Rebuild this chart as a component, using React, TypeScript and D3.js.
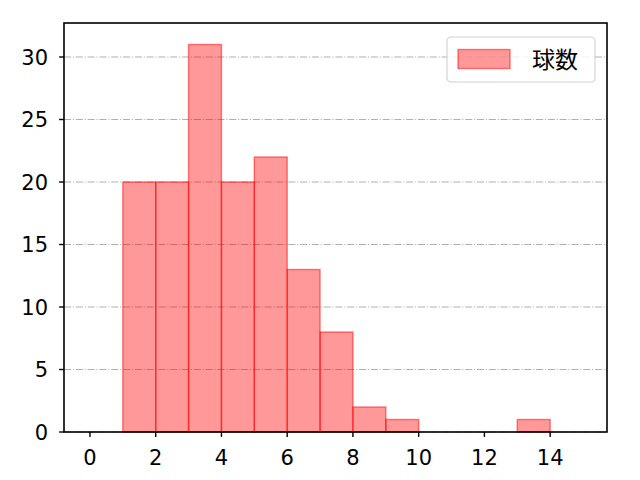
import * as d3 from 'd3';
import React from 'react';

// histogram bins (left edge) and counts
const binStarts = [1, 2, 3, 4, 5, 6, 7, 8, 9, 10, 11, 12, 13];
const counts = [20, 20, 31, 20, 22, 13, 8, 2, 1, 0, 0, 0, 1];
const xTicks = [0, 2, 4, 6, 8, 10, 12, 14];
const yTicks = [0, 5, 10, 15, 20, 25, 30];
const seriesName = '球数';

export default function App() {
  const W = 640;
  const H = 480;
  const margin = { top: 23, right: 33, bottom: 48, left: 64 };
  const iw = W - margin.left - margin.right;
  const ih = H - margin.top - margin.bottom;

  const x = d3.scaleLinear().domain([-0.79, 15.73]).range([0, iw]);
  const y = d3.scaleLinear().domain([0, 32.72]).range([ih, 0]);

  const font = '"DejaVu Sans", sans-serif';
  const fs = 21;

  return (
    <svg
      width={W}
      height={H}
      style={{ position: 'absolute', left: 0, top: 0, background: '#fff' }}
    >
      <g transform={`translate(${margin.left},${margin.top})`}>
        {/* grid */}
        {yTicks.map(t => (
          <line
            key={`g${t}`}
            x1={0}
            x2={iw}
            y1={y(t)}
            y2={y(t)}
            stroke="#b0b0b0"
            strokeWidth={1.1}
            strokeDasharray="7.1,1.8,1.1,1.8"
          />
        ))}
        {/* bars */}
        {binStarts.map((b, i) =>
          counts[i] > 0 ? (
            <rect
              key={`b${b}`}
              x={x(b)}
              y={y(counts[i])}
              width={x(b + 1) - x(b)}
              height={y(0) - y(counts[i])}
              fill="rgba(255,0,0,0.4)"
              stroke="rgba(255,0,0,0.5)"
              strokeWidth={1.4}
            />
          ) : null
        )}
        {/* frame */}
        <rect x={0} y={0} width={iw} height={ih} fill="none" stroke="#000" strokeWidth={1.6} />
        {/* x axis */}
        {xTicks.map(t => (
          <g key={`x${t}`} transform={`translate(${x(t)},${ih})`}>
            <line y1={0} y2={4.9} stroke="#000" strokeWidth={1.4} />
            <text y={33} textAnchor="middle" fontFamily={font} fontSize={fs} fill="#000">
              {t}
            </text>
          </g>
        ))}
        {/* y axis */}
        {yTicks.map(t => (
          <g key={`y${t}`} transform={`translate(0,${y(t)})`}>
            <line x1={0} x2={-4.9} stroke="#000" strokeWidth={1.4} />
            <text x={-16} dy="0.36em" textAnchor="end" fontFamily={font} fontSize={fs} fill="#000">
              {t}
            </text>
          </g>
        ))}
        {/* legend */}
        <g transform={`translate(${447 - margin.left},${37 - margin.top})`}>
          <rect x={0} y={0} width={148} height={45} rx={4} fill="rgba(255,255,255,0.8)" stroke="#d0d0d0" strokeWidth={1.1} />
          <rect x={11} y={12.5} width={52} height={19} fill="rgba(255,0,0,0.4)" stroke="rgba(255,0,0,0.5)" strokeWidth={1.4} />
          <text
            x={85}
            y={22.5}
            dy="0.36em"
            fontFamily='"Noto Sans CJK JP", sans-serif'
            fontSize={23}
            fill="#000"
          >
            {seriesName}
          </text>
        </g>
      </g>
    </svg>
  );
}
